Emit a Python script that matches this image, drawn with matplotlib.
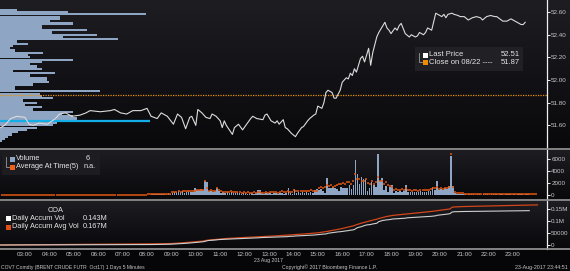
import matplotlib
matplotlib.use("Agg")
import matplotlib.pyplot as plt
import numpy as np
from matplotlib.colors import LinearSegmentedColormap
from matplotlib.lines import Line2D
from matplotlib.patches import Rectangle

# ---------------- data ----------------
price_times = [
    "02:00", "02:10", "02:25", "02:40",
    "03:00", "03:10", "03:20", "03:35", "03:55",
    "04:15", "04:25", "04:40", "04:55",
    "05:15", "05:30", "05:40",
    "06:05", "06:30", "06:40", "06:55",
    "07:10", "07:25", "07:45",
    "08:00", "08:10", "08:25", "08:35", "08:50",
    "09:05", "09:15", "09:25", "09:35", "09:45", "09:50",
    "10:00", "10:05", "10:15", "10:25", "10:35", "10:40", "10:50",
    "11:00", "11:05", "11:10", "11:15", "11:30", "11:35", "11:45", "11:55",
    "12:05", "12:15", "12:20", "12:30", "12:45", "12:50", "12:55",
    "13:05", "13:15", "13:20", "13:25", "13:35", "13:40", "13:45", "13:55",
    "14:05", "14:10", "14:20", "14:25", "14:35", "14:40", "14:50", "14:55",
    "15:00", "15:10", "15:15", "15:20", "15:25", "15:35", "15:40", "15:45", "15:55",
    "16:00", "16:05", "16:10", "16:15", "16:20", "16:25", "16:30", "16:35", "16:40", "16:45", "16:50", "16:55",
    "17:00", "17:05", "17:10", "17:15", "17:25", "17:30", "17:35", "17:40", "17:45", "17:50", "17:55",
    "18:00", "18:10", "18:15", "18:20", "18:25", "18:35", "18:45", "18:50",
    "19:00", "19:05", "19:10", "19:20", "19:25", "19:30", "19:40", "19:50", "19:55",
    "20:05", "20:10", "20:15", "20:20", "20:30", "20:35", "20:45", "20:50",
    "21:00", "21:10", "21:20", "21:30", "21:40", "21:45", "21:55",
    "22:05", "22:15", "22:20", "22:35", "22:45", "22:55",
    "23:10", "23:20", "23:25", "23:30",
]
price_values = [
    51.58, 51.60, 51.66, 51.68,
    51.67, 51.61, 51.60, 51.62, 51.61,
    51.66, 51.70, 51.71, 51.68,
    51.69, 51.71, 51.73,
    51.72, 51.73, 51.74, 51.71,
    51.70, 51.73, 51.73,
    51.75, 51.68, 51.66, 51.71, 51.68,
    51.61, 51.70, 51.67, 51.57, 51.67, 51.68,
    51.60, 51.74, 51.71, 51.67, 51.66, 51.70, 51.68,
    51.64, 51.58, 51.64, 51.60, 51.52, 51.58, 51.61, 51.56,
    51.61, 51.66, 51.68, 51.66, 51.65, 51.69, 51.70,
    51.64, 51.62, 51.64, 51.61, 51.65, 51.58, 51.57, 51.53,
    51.50, 51.53, 51.58, 51.59, 51.64, 51.66, 51.69, 51.70,
    51.77, 51.75, 51.80, 51.89, 51.91, 51.89, 51.84, 51.84, 51.91,
    51.98, 52.00, 52.02, 52.01, 52.06, 52.04, 52.10, 52.07, 52.13, 52.19, 52.21, 52.16,
    52.22, 52.28, 52.13, 52.24, 52.38, 52.42, 52.45, 52.48, 52.51, 52.46, 52.44,
    52.41, 52.46, 52.44, 52.48, 52.50, 52.41, 52.38, 52.40,
    52.38, 52.39, 52.42, 52.40, 52.42, 52.46, 52.44, 52.59, 52.58,
    52.56, 52.58, 52.55, 52.58, 52.59, 52.58, 52.57, 52.56,
    52.56, 52.53, 52.55, 52.56, 52.55, 52.53, 52.56,
    52.57, 52.56, 52.56, 52.52, 52.52, 52.54,
    52.51, 52.49, 52.49, 52.51,
]
last_price = 52.51
prev_close = 51.87

# volume-at-price profile (left histogram)
hist_prices = [
    52.62, 52.60, 52.58, 52.56, 52.54, 52.52, 52.50, 52.48, 52.46, 52.44,
    52.42, 52.40, 52.38, 52.36, 52.34, 52.32, 52.30, 52.28, 52.26, 52.24,
    52.22, 52.20, 52.18, 52.16, 52.14, 52.12, 52.10, 52.08, 52.06, 52.04,
    52.02, 52.00, 51.98, 51.96, 51.94, 51.92, 51.90, 51.88, 51.86, 51.84,
    51.82, 51.80, 51.78, 51.76, 51.74, 51.72, 51.70, 51.68, 51.66, 51.64,
    51.62, 51.60, 51.58, 51.56, 51.54, 51.52, 51.50, 51.48, 51.46,
]
hist_volumes = [
    1020, 4080, 8760, 3600, 3600, 3000, 4380, 2520, 2520, 5220,
    3120, 5820, 3780, 7080, 1020, 1680, 780, 600, 900, 2580,
    1680, 1800, 4380, 2520, 1800, 2220, 2520, 780, 3300, 1800,
    2820, 2820, 2940, 1980, 900, 900, 6000, 2400, 2520, 3180,
    1380, 2220, 1500, 2520, 1980, 4380, 3720, 4380, 4620, 8940,
    3420, 3180, 2220, 1620, 1080, 720, 480, 300, 120,
]
poc_price = 51.64

# 5-minute volume, one row per hour starting 02:00
volume_5min = [
    20, 30, 10, 40, 20, 30, 20, 10, 30, 40, 20, 30,
    30, 20, 40, 20, 10, 30, 40, 20, 30, 20, 30, 10,
    20, 40, 30, 10, 20, 30, 40, 30, 20, 10, 30, 20,
    30, 20, 10, 30, 40, 20, 30, 20, 40, 30, 20, 10,
    20, 30, 40, 20, 10, 30, 20, 40, 30, 20, 10, 30,
    30, 10, 20, 40, 30, 20, 30, 10, 40, 20, 30, 20,
    80, 60, 100, 120, 90, 150, 110, 130, 100, 160, 300, 250,
    400, 550, 450, 650, 500, 600, 400, 550, 700, 550, 500, 1200,
    900, 800, 950, 850, 2400, 2200, 600, 700, 550, 650, 1200, 600,
    400, 500, 350, 450, 300, 500, 400, 350, 450, 300, 250, 300,
    300, 250, 350, 300, 250, 300, 900, 850, 300, 250, 350, 300,
    300, 250, 300, 350, 250, 300, 300, 250, 350, 1200, 300, 250,
    1000, 400, 500, 350, 450, 400, 500, 400, 450, 400, 900, 950,
    900, 950, 600, 300, 2900, 1200, 1100, 1300, 1200, 1000, 600, 1300,
    1100, 1200, 1100, 1600, 1000, 1700, 5800, 3500, 1800, 3000, 2600, 2600,
    700, 1200, 2200, 1600, 1300, 6900, 2300, 2800, 900, 1500, 500, 1300,
    1700, 300, 600, 500, 650, 550, 600, 1600, 500, 450, 550, 500,
    500, 450, 600, 550, 500, 450, 600, 700, 1300, 900, 2300, 900,
    1000, 900, 1100, 1000, 1500, 6500, 1500, 300, 200, 250, 150, 200,
    100, 80, 120, 150, 90, 70, 100, 120, 80, 100, 150, 120,
    80, 100, 120, 100, 70, 150, 100, 80, 120, 200, 100, 80,
    100, 80, 120, 150, 100, 70, 120, 100,
]
avg_5min = [
    60, 70, 50, 65, 55, 60, 70, 50, 60, 65, 55, 60,
    65, 55, 60, 70, 50, 60, 65, 55, 70, 60, 50, 65,
    60, 50, 65, 70, 55, 60, 50, 65, 60, 70, 55, 60,
    55, 65, 60, 50, 70, 60, 55, 65, 50, 60, 70, 60,
    60, 70, 55, 60, 65, 50, 60, 70, 55, 65, 60, 50,
    65, 60, 50, 70, 60, 55, 65, 60, 70, 50, 60, 65,
    100, 120, 110, 130, 140, 150, 140, 160, 170, 180, 200, 200,
    450, 500, 550, 600, 550, 650, 600, 700, 600, 650, 600, 750,
    900, 850, 800, 900, 2400, 1100, 700, 800, 750, 700, 1200, 900,
    600, 550, 500, 550, 450, 600, 500, 450, 500, 450, 400, 450,
    400, 450, 400, 350, 450, 400, 500, 450, 400, 350, 450, 400,
    450, 500, 450, 550, 400, 500, 600, 450, 500, 700, 450, 450,
    800, 600, 700, 650, 750, 600, 700, 650, 800, 700, 750, 700,
    1200, 1300, 1100, 1400, 1700, 1500, 1600, 1400, 1500, 1700, 1800, 1800,
    2000, 1900, 2200, 2100, 1800, 2400, 3500, 2700, 2600, 2400, 2300, 2600,
    2000, 1900, 2400, 1800, 2100, 3000, 2300, 2400, 1800, 2100, 1600, 1500,
    1300, 900, 1000, 900, 850, 950, 800, 1100, 850, 800, 750, 800,
    800, 750, 900, 850, 800, 900, 850, 1000, 1200, 1100, 1300, 1000,
    1100, 1000, 1200, 1100, 1300, 6800, 1400, 500, 400, 350, 300, 300,
    200, 180, 190, 200, 210, 190, 200, 210, 190, 200, 180, 200,
    150, 140, 160, 180, 200, 190, 180, 200, 210, 190, 180, 200,
    190, 180, 200, 170, 190, 180, 170, 190, 180, 170, 180, 190,
]
volume_start_hour = 2.0
last_volume = 6

price_ticks = [51.60, 51.80, 52.00, 52.20, 52.40, 52.60]
vol_ticks = [0, 2000, 4000, 6000]
acc_ticks = [0, 50000, 100000, 150000]
acc_tick_labels = ["0", "50000", "0.1M", "0.15M"]
hour_ticks = list(range(3, 24))
hour_labels = ["%02d:00" % h for h in hour_ticks]

# ---------------- helpers ----------------
W, H = 570, 271
fig = plt.figure(figsize=(W / 100, H / 100), dpi=100)
fig.patch.set_facecolor("#060608")
renderer = fig.canvas.get_renderer()

def fx(px):
    return px / W

def fy(py):
    return 1 - py / H

def rect(x0, y0, x1, y1):
    return [fx(x0), fy(y1), fx(x1) - fx(x0), fy(y0) - fy(y1)]

SANS = ["Liberation Sans", "DejaVu Sans"]
TXT = "#e6e6e6"
TICK = "#c8c8c8"
YT_SIZE = 4.5
XT_SIZE = 4.5

def fit_size(s, family, target_px, base=6.0):
    t = fig.text(0, 0, s, family=family, fontsize=base)
    w = t.get_window_extent(renderer).width
    t.remove()
    return base * target_px / w

def to_hours(s):
    h, m = s.split(":")
    return int(h) + int(m) / 60.0

X0 = 3 - 25 / 24.4
X1 = 3 + (547 - 25) / 24.4

grad = LinearSegmentedColormap.from_list("bg", ["#1d1d22", "#09090c"])

def background(y0, y1):
    b = fig.add_axes(rect(0, y0, W, y1))
    b.imshow(np.linspace(0, 1, 64).reshape(-1, 1), aspect="auto", cmap=grad,
             extent=[0, 1, 0, 1])
    b.set_axis_off()
    b.set_zorder(-5)

background(0, 148)
background(149.5, 199)
background(200.5, 249)

def style_right(ax):
    for s in ["top", "left", "bottom"]:
        ax.spines[s].set_visible(False)
    ax.spines["right"].set_color("#f0f0f0")
    ax.spines["right"].set_linewidth(0.9)
    ax.yaxis.tick_right()
    ax.tick_params(axis="y", length=2, width=0.7, color="#f0f0f0", pad=1,
                   labelsize=YT_SIZE, labelcolor=TICK)
    for lbl in ax.get_yticklabels():
        lbl.set_family(SANS)
    ax.set_facecolor("none")

# ---------------- price panel ----------------
PLIM = (52.60 - 135 * 0.2 / 22.5, 52.60 + 12 * 0.2 / 22.5)

ax_hist = fig.add_axes(rect(0, 0, 547, 148))
ax_hist.set_facecolor("none")
ax_hist.set_axis_off()
hist_xmax = max(hist_volumes) * 547 / 149.5
ax_hist.set_xlim(0, hist_xmax)
ax_hist.set_ylim(*PLIM)
ax_hist.barh(hist_prices, hist_volumes, height=0.0195, left=0, color="#8fa5c4",
             edgecolor="none")
poc_vol = hist_volumes[hist_prices.index(poc_price)]
ax_hist.plot([0, poc_vol], [poc_price, poc_price], color="#13aee8", lw=1.6,
             solid_capstyle="butt")

ax_p = fig.add_axes(rect(0, 0, 547, 148))
ax_p.set_xlim(X0, X1)
ax_p.set_ylim(*PLIM)
ax_p.axhline(prev_close, color="#e8900a", lw=0.9, ls=(0, (1, 1)))
ax_p.plot([to_hours(t) for t in price_times], price_values, color="#dcdcdc",
          lw=0.8)
ax_p.set_yticks(price_ticks)
ax_p.set_yticklabels(["%.2f" % v for v in price_ticks])
ax_p.set_xticks([])
style_right(ax_p)

# price legend
fig.add_artist(Rectangle((fx(415), fy(71)), fx(523) - fx(415), fy(47) - fy(71),
                         transform=fig.transFigure, facecolor="#202025",
                         edgecolor="none"))
fig.add_artist(Line2D([fx(419), fx(419), fx(422)], [fy(53), fy(62), fy(62)],
                      transform=fig.transFigure, color="#9a9a9a", lw=0.6))
fig.add_artist(Rectangle((fx(423), fy(57.5)), fx(5), fy(0) - fy(5),
                         transform=fig.transFigure, facecolor="#ffffff",
                         edgecolor="none"))
fig.add_artist(Rectangle((fx(423), fy(65.5)), fx(5), fy(0) - fy(5),
                         transform=fig.transFigure, facecolor="#f08c00",
                         edgecolor="none"))
fig.text(fx(429), fy(55), "Last Price", color=TXT, fontsize=5.5, family=SANS,
         va="center", ha="left")
fig.text(fx(520), fy(55), "%.2f" % last_price, color=TXT, fontsize=5.5,
         family=SANS, va="center", ha="right")
fig.text(fx(429), fy(63), "Close on 08/22 ----", color=TXT, fontsize=5.5,
         family=SANS, va="center", ha="left")
fig.text(fx(520), fy(63), "%.2f" % prev_close, color=TXT, fontsize=5.5,
         family=SANS, va="center", ha="right")

# ---------------- volume panel ----------------
n_v = len(volume_5min)
t_v = volume_start_hour + (np.arange(n_v) + 0.5) / 12.0
n_a = len(avg_5min)
t_a = volume_start_hour + (np.arange(n_a) + 0.5) / 12.0

ax_v = fig.add_axes(rect(0, 149.5, 547, 199))
ax_v.set_xlim(X0, X1)
ax_v.set_ylim(-(199 - 195) / 0.006, (195 - 149.5) / 0.006)
ax_v.bar(t_v, volume_5min, width=0.8 / 12, color="#8fa5c4", edgecolor="none")
ax_v.plot(t_a, avg_5min, ls="none", marker="_", ms=2.0, mew=1.1,
          color="#e2560f")
ax_v.set_yticks(vol_ticks)
ax_v.set_yticklabels([str(v) for v in vol_ticks])
ax_v.set_xticks([])
style_right(ax_v)

fig.add_artist(Rectangle((fx(2), fy(175)), fx(98), fy(0) - fy(24),
                         transform=fig.transFigure, facecolor="#1c1c21",
                         edgecolor="none"))
fig.add_artist(Line2D([fx(6), fx(6), fx(9)], [fy(157), fy(167), fy(167)],
                      transform=fig.transFigure, color="#9a9a9a", lw=0.6))
fig.add_artist(Rectangle((fx(10), fy(161.5)), fx(5), fy(0) - fy(5),
                         transform=fig.transFigure, facecolor="#8fa5c4",
                         edgecolor="none"))
fig.add_artist(Rectangle((fx(10), fy(169.5)), fx(5), fy(0) - fy(5),
                         transform=fig.transFigure, facecolor="#f0601a",
                         edgecolor="none"))
fig.text(fx(16), fy(159), "Volume", color=TXT, fontsize=5.3, family=SANS,
         va="center")
fig.text(fx(86), fy(159), str(last_volume), color=TXT, fontsize=5.3,
         family=SANS, va="center")
fig.text(fx(16), fy(167), "Average At Time(5)", color=TXT, fontsize=5.3,
         family=SANS, va="center")
fig.text(fx(84), fy(167), "n.a.", color=TXT, fontsize=5.3, family=SANS,
         va="center")

# ---------------- accumulated volume panel ----------------
acc_vol = np.cumsum(volume_5min)
acc_avg = np.cumsum(avg_5min)
t_acc_v = volume_start_hour + np.arange(n_v + 1) / 12.0
t_acc_a = volume_start_hour + np.arange(n_a + 1) / 12.0

ax_a = fig.add_axes(rect(0, 200.5, 547, 249))
ax_a.set_xlim(X0, X1)
ax_a.set_ylim(-(249 - 245) / 0.00024, (245 - 200.5) / 0.00024)
ax_a.plot(t_acc_a, np.concatenate([[0], acc_avg]), color="#d2461a", lw=0.9)
ax_a.plot(t_acc_v, np.concatenate([[0], acc_vol]), color="#cfcfcf", lw=0.8)
ax_a.set_yticks(acc_ticks)
ax_a.set_yticklabels(acc_tick_labels)
style_right(ax_a)
ax_a.set_xticks(hour_ticks)
ax_a.set_xticklabels(hour_labels)
ax_a.tick_params(axis="x", length=0, pad=2.5, labelsize=XT_SIZE,
                 labelcolor=TICK)
for lbl in ax_a.get_xticklabels():
    lbl.set_family(SANS)

fig.text(fx(56), fy(210), "COA", color=TXT, fontsize=5.3, family=SANS,
         va="center", ha="center")
fig.add_artist(Rectangle((fx(6), fy(220.5)), fx(5), fy(0) - fy(5),
                         transform=fig.transFigure, facecolor="#ffffff",
                         edgecolor="none"))
fig.add_artist(Rectangle((fx(6), fy(229.5)), fx(5), fy(0) - fy(5),
                         transform=fig.transFigure, facecolor="#e0501a",
                         edgecolor="none"))
fig.text(fx(12), fy(218), "Daily Accum Vol", color=TXT, fontsize=5.3,
         family=SANS, va="center")
fig.text(fx(83), fy(218), "%.3fM" % (acc_vol[-1] / 1e6), color=TXT,
         fontsize=5.3, family=SANS, va="center")
fig.text(fx(12), fy(227), "Daily Accum Avg Vol", color=TXT, fontsize=5.3,
         family=SANS, va="center")
fig.text(fx(83), fy(227), "%.3fM" % (acc_avg[-1] / 1e6), color=TXT,
         fontsize=5.3, family=SANS, va="center")

# separators
for yy in (148.7, 199.7, 249.3):
    fig.add_artist(Line2D([0, 1], [fy(yy), fy(yy)], transform=fig.transFigure,
                          color="#8e8e8e", lw=1.3))

# footer
foot_left = "COV7 Comdty (BRENT CRUDE FUTR  Oct17) 1 Days 5 Minutes"
foot_mid = "Copyright\u00a9 2017 Bloomberg Finance L.P."
foot_right = "23-Aug-2017 23:44:51"
date_label = "23 Aug 2017"
fig.text(fx(268), fy(260.5), date_label, color=TICK,
         fontsize=min(4.6, fit_size(date_label, SANS, 29)), family=SANS,
         va="center", ha="center")
fig.text(fx(1), fy(267), foot_left, color=TICK,
         fontsize=min(4.6, fit_size(foot_left, SANS, 146)), family=SANS,
         va="center", ha="left")
fig.text(fx(282), fy(267), foot_mid, color=TICK,
         fontsize=min(4.6, fit_size(foot_mid, SANS, 95)), family=SANS,
         va="center", ha="left")
fig.text(fx(568), fy(267), foot_right, color=TICK,
         fontsize=min(4.6, fit_size(foot_right, SANS, 53)), family=SANS,
         va="center", ha="right")

fig.savefig("out.png", dpi=100, facecolor=fig.get_facecolor())
